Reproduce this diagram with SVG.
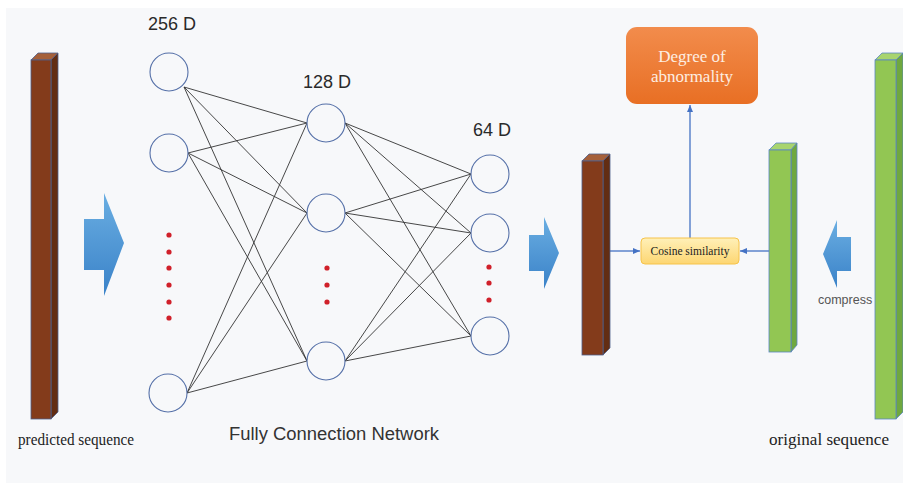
<svg xmlns="http://www.w3.org/2000/svg" width="903" height="486" viewBox="0 0 903 486">
  <defs>
    <linearGradient id="blueArrow" x1="0" y1="0" x2="0" y2="1">
      <stop offset="0" stop-color="#6aaee2"/>
      <stop offset="1" stop-color="#3a82c8"/>
    </linearGradient>
    <linearGradient id="orangeBox" x1="0" y1="0" x2="0" y2="1">
      <stop offset="0" stop-color="#f28c4c"/>
      <stop offset="1" stop-color="#e86f24"/>
    </linearGradient>
    <linearGradient id="yellowBox" x1="0" y1="0" x2="0" y2="1">
      <stop offset="0" stop-color="#fff0b8"/>
      <stop offset="1" stop-color="#fdd672"/>
    </linearGradient>
    <marker id="arrowHead" markerWidth="8" markerHeight="8" refX="7" refY="4" orient="auto" markerUnits="userSpaceOnUse">
      <path d="M0,1 L7,4 L0,7 Z" fill="#4472c4"/>
    </marker>
    <style>
      .node { fill: #f7f8fa; stroke: #5570a8; stroke-width: 1.1; }
      .link { stroke: #333; stroke-width: 0.9; fill: none; }
      .dot { fill: #d0202a; }
      .dim { font-family: "Liberation Sans", Arial, sans-serif; font-size: 18px; fill: #2a2a2a; }
      .serif { font-family: "Liberation Serif", "Times New Roman", serif; }
      .flow { stroke: #4472c4; stroke-width: 1.3; fill: none; marker-end: url(#arrowHead); }
      .brownFront { fill: #833b1b; stroke: #4f5f8c; stroke-width: 0.8; }
      .brownTop { fill: #a5603a; stroke: #4f5f8c; stroke-width: 0.8; }
      .brownSide { fill: #622d13; stroke: #4f5f8c; stroke-width: 0.8; }
      .greenFront { fill: #92c653; stroke: #5b86c4; stroke-width: 0.8; }
      .greenTop { fill: #a8d46e; stroke: #5b86c4; stroke-width: 0.8; }
      .greenSide { fill: #6fa83f; stroke: #5b86c4; stroke-width: 0.8; }
    </style>
  </defs>

  <!-- page background -->
  <rect x="0" y="0" width="903" height="486" fill="#ffffff"/>
  <rect x="6" y="8" width="897" height="475" fill="#f7f8fa"/>

  <!-- predicted sequence bar -->
  <g id="predicted-bar">
    <polygon class="brownTop" points="31,60 38,53 58,53 51,60"/>
    <polygon class="brownSide" points="51,60 58,53 58,412 51,419"/>
    <rect class="brownFront" x="31" y="60" width="20" height="359"/>
  </g>
  <text id="predicted-label" class="serif" x="18" y="445" font-size="16" fill="#222" textLength="116" lengthAdjust="spacingAndGlyphs">predicted sequence</text>

  <!-- block arrows -->
  <g id="arrow-in">
    <polygon fill="url(#blueArrow)" points="84,219 104,219 104,193 124,243 104,296 104,270 84,270"/>
  </g>
  <g id="arrow-out">
    <polygon fill="url(#blueArrow)" points="529,235 544,235 544,217 559,253 544,289 544,271 529,271"/>
  </g>
  <g id="arrow-compress">
    <polygon fill="url(#blueArrow)" points="851,237 837,237 837,220 823,254 837,288 837,271 851,271"/>
  </g>

  <!-- fully connected links -->
  <g id="connectors">
    <line class="link" x1="184" y1="87" x2="307" y2="123"/>
    <line class="link" x1="184" y1="87" x2="307" y2="213"/>
    <line class="link" x1="184" y1="87" x2="307" y2="361"/>
    <line class="link" x1="188" y1="153" x2="307" y2="123"/>
    <line class="link" x1="188" y1="153" x2="307" y2="213"/>
    <line class="link" x1="188" y1="153" x2="307" y2="361"/>
    <line class="link" x1="187" y1="393" x2="307" y2="123"/>
    <line class="link" x1="187" y1="393" x2="307" y2="213"/>
    <line class="link" x1="187" y1="393" x2="307" y2="361"/>

    <line class="link" x1="345" y1="123" x2="471" y2="174"/>
    <line class="link" x1="345" y1="123" x2="471" y2="233"/>
    <line class="link" x1="345" y1="123" x2="471" y2="336"/>
    <line class="link" x1="345" y1="213" x2="471" y2="174"/>
    <line class="link" x1="345" y1="213" x2="471" y2="233"/>
    <line class="link" x1="345" y1="213" x2="471" y2="336"/>
    <line class="link" x1="345" y1="361" x2="471" y2="174"/>
    <line class="link" x1="345" y1="361" x2="471" y2="233"/>
    <line class="link" x1="345" y1="361" x2="471" y2="336"/>

    <line class="flow" x1="610" y1="251" x2="640" y2="251"/>
    <line class="flow" x1="769" y1="251" x2="740" y2="251"/>
    <line class="flow" x1="690" y1="238" x2="690" y2="105"/>
  </g>

  <!-- layer 256 D -->
  <text class="dim" x="148" y="30">256 D</text>
  <g id="n256-1"><circle class="node" cx="169" cy="72" r="19"/></g>
  <g id="n256-2"><circle class="node" cx="169" cy="153" r="19"/></g>
  <g id="n256-3"><circle class="node" cx="168" cy="393" r="19"/></g>
  <g id="dots-256">
    <circle class="dot" cx="169" cy="235" r="2.6"/>
    <circle class="dot" cx="169" cy="252" r="2.6"/>
    <circle class="dot" cx="169" cy="268" r="2.6"/>
    <circle class="dot" cx="169" cy="285" r="2.6"/>
    <circle class="dot" cx="169" cy="302" r="2.6"/>
    <circle class="dot" cx="169" cy="318" r="2.6"/>
  </g>

  <!-- layer 128 D -->
  <text class="dim" x="303" y="88">128 D</text>
  <g id="n128-1"><circle class="node" cx="326" cy="123" r="19"/></g>
  <g id="n128-2"><circle class="node" cx="326" cy="213" r="19"/></g>
  <g id="n128-3"><circle class="node" cx="326" cy="361" r="19"/></g>
  <g id="dots-128">
    <circle class="dot" cx="327" cy="268" r="2.6"/>
    <circle class="dot" cx="327" cy="285" r="2.6"/>
    <circle class="dot" cx="327" cy="302" r="2.6"/>
  </g>

  <!-- layer 64 D -->
  <text class="dim" x="473" y="136">64 D</text>
  <g id="n64-1"><circle class="node" cx="490" cy="174" r="19"/></g>
  <g id="n64-2"><circle class="node" cx="490" cy="233" r="19"/></g>
  <g id="n64-3"><circle class="node" cx="490" cy="336" r="19"/></g>
  <g id="dots-64">
    <circle class="dot" cx="489" cy="267" r="2.6"/>
    <circle class="dot" cx="489" cy="283" r="2.6"/>
    <circle class="dot" cx="489" cy="300" r="2.6"/>
  </g>

  <text id="network-label" x="229" y="440" font-family="Liberation Sans, Arial, sans-serif" font-size="18" fill="#333" textLength="210" lengthAdjust="spacingAndGlyphs">Fully Connection Network</text>

  <!-- network output bar -->
  <g id="output-bar">
    <polygon class="brownTop" points="582,161 589,154 610,154 603,161"/>
    <polygon class="brownSide" points="603,161 610,154 610,348 603,355"/>
    <rect class="brownFront" x="582" y="161" width="21" height="194"/>
  </g>

  <!-- cosine similarity -->
  <g id="cosine">
    <rect x="641" y="238" width="98" height="26" rx="4" fill="url(#yellowBox)" stroke="#f6c34a" stroke-width="1"/>
    <text class="serif" x="690" y="255" font-size="11.5" fill="#222" text-anchor="middle">Cosine similarity</text>
  </g>

  <!-- degree of abnormality -->
  <g id="abnormality">
    <rect x="626" y="27" width="132" height="77" rx="11" fill="url(#orangeBox)"/>
    <text class="serif" x="692" y="62" font-size="17" fill="#fdeee2" text-anchor="middle">Degree of</text>
    <text class="serif" x="692" y="82" font-size="17" fill="#fdeee2" text-anchor="middle">abnormality</text>
  </g>

  <!-- compressed original bar -->
  <g id="compressed-bar">
    <polygon class="greenTop" points="769,150 776,143 797,143 791,150"/>
    <polygon class="greenSide" points="791,150 797,143 797,345 791,352"/>
    <rect class="greenFront" x="769" y="150" width="22" height="202"/>
  </g>

  <text id="compress-label" x="818" y="304" font-family="Liberation Sans, Arial, sans-serif" font-size="12.5" fill="#555">compress</text>

  <!-- original sequence bar -->
  <g id="original-bar">
    <polygon class="greenTop" points="875,60 882,53 903,53 896,60"/>
    <polygon class="greenSide" points="896,60 903,53 903,412 896,419"/>
    <rect class="greenFront" x="875" y="60" width="21" height="359"/>
  </g>
  <text id="original-label" class="serif" x="769" y="445" font-size="16.5" fill="#222" textLength="120" lengthAdjust="spacingAndGlyphs">original sequence</text>
</svg>
